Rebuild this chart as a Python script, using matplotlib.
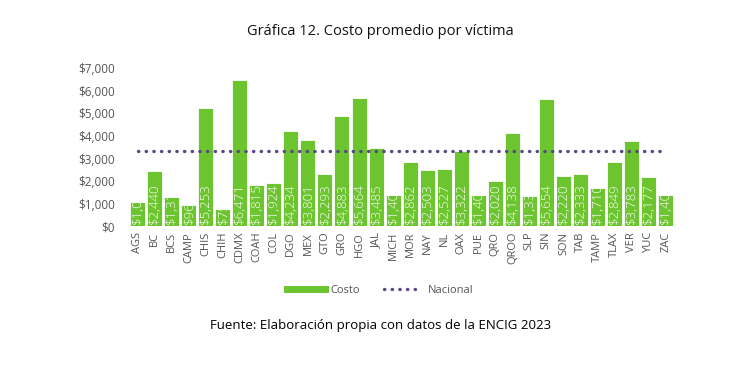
import matplotlib.pyplot as plt
from matplotlib.lines import Line2D
import numpy as np

plt.rcParams['font.family'] = ['Open Sans', 'DejaVu Sans']

estados = ['AGS', 'BC', 'BCS', 'CAMP', 'CHIS', 'CHIH', 'CDMX', 'COAH', 'COL', 'DGO',
           'MEX', 'GTO', 'GRO', 'HGO', 'JAL', 'MICH', 'MOR', 'NAY', 'NL', 'OAX',
           'PUE', 'QRO', 'QROO', 'SLP', 'SIN', 'SON', 'TAB', 'TAMP', 'TLAX', 'VER',
           'YUC', 'ZAC']
costo = [1070, 2440, 1310, 960, 5253, 750, 6471, 1815, 1924, 4234,
         3801, 2293, 4883, 5664, 3485, 1400, 2862, 2503, 2527, 3322,
         1400, 2020, 4138, 1330, 5654, 2220, 2333, 1710, 2849, 3783,
         2177, 1400]
nacional = 3330
y_ticks = [0, 1000, 2000, 3000, 4000, 5000, 6000, 7000]

verde = '#6cc52f'
morado = '#5b4788'
gris = '#555555'
puntos = (0, (0.1, 2.2))

fig = plt.figure(figsize=(7.5, 3.9), dpi=100)
ax = fig.add_axes([0.172, 0.42, 0.727, 0.405])

x = np.arange(len(estados))
bars = ax.bar(x, costo, width=0.88, color=verde, edgecolor='white', linewidth=0.6, zorder=2)
ax.plot([x[0], x[-1]], [nacional, nacional], color=morado, linestyle=puntos,
        linewidth=2.4, dash_capstyle='round', zorder=3)

# etiquetas dentro de la barra, recortadas como en el original
for b, v in zip(bars, costo):
    t = ax.text(b.get_x() + b.get_width() / 2, 80, '${:,}'.format(v), rotation=90,
                ha='center', va='bottom', color='white', fontsize=9.5, fontweight='light',
                zorder=4)
    t.set_clip_path(b)

ax.set_xlim(-0.5, len(estados) - 0.5)
ax.set_ylim(0, 7000)
ax.set_yticks(y_ticks)
ax.set_yticklabels(['${:,}'.format(v) for v in y_ticks], fontsize=8.5, color=gris)
ax.set_xticks(x)
ax.set_xticklabels(estados, rotation=90, fontsize=8, color=gris)
ax.tick_params(axis='y', length=0, pad=10)
ax.tick_params(axis='x', length=0, pad=4)
for s in ax.spines.values():
    s.set_visible(False)

fig.text(0.507, 0.92, 'Gráfica 12. Costo promedio por víctima', ha='center', va='center',
         fontsize=10.5, color='#111111', fontweight='medium')

handles = [Line2D([], [], color=verde, linewidth=5),
           Line2D([], [], color=morado, linewidth=2.4, linestyle=puntos, dash_capstyle='round')]
leg = fig.legend(handles, ['Costo', 'Nacional'], loc='center', bbox_to_anchor=(0.507, 0.255),
                 ncol=2, frameon=False, fontsize=8, handlelength=3.4, columnspacing=2.2,
                 handletextpad=0.5)
for t in leg.get_texts():
    t.set_color(gris)
fig.text(0.507, 0.165, 'Fuente: Elaboración propia con datos de la ENCIG 2023', ha='center',
         va='center', fontsize=9.5, color='#000000', fontweight='medium')

fig.savefig('out.png', dpi=100, facecolor='white')
